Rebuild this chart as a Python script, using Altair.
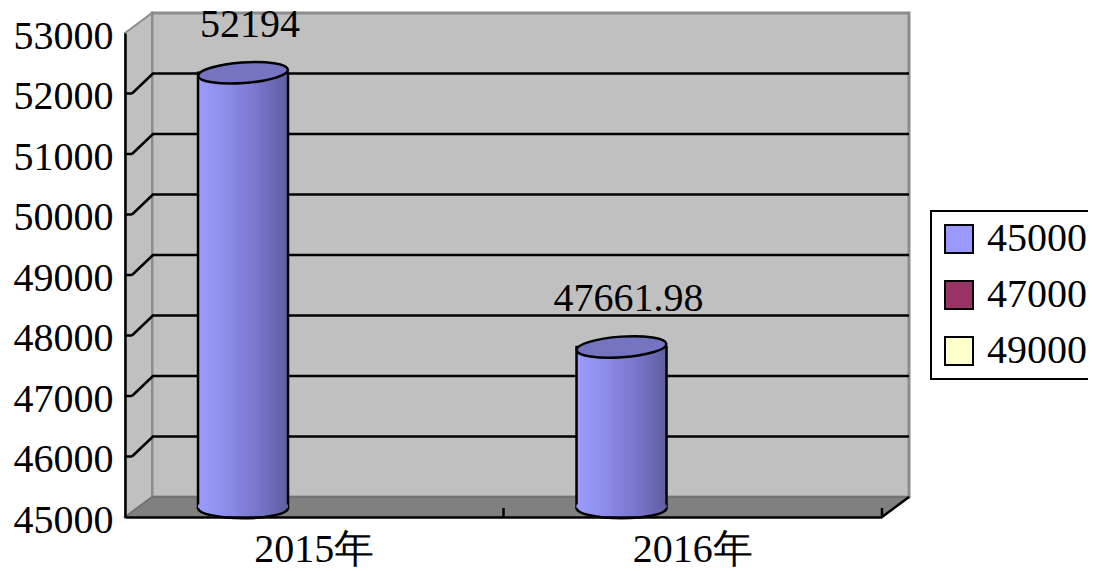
import altair as alt
import pandas as pd

# ---- data ----
categories = ["2015年", "2016年"]
series = ["45000", "47000", "49000"]
series_colors = ["#9999FF", "#993366", "#FFFFCC"]
values_45000 = [52194, 47661.98]
y_ticks = [45000, 46000, 47000, 48000, 49000, 50000, 51000, 52000, 53000]
grid_values = [46000, 47000, 48000, 49000, 50000, 51000, 52000]
y_min, y_max = 45000, 53000

# ---- layout / style ----
W, H = 757, 484
DX, DY = 27, -20          # depth of the 3D box
MID_DY = -9               # cylinders sit half way in depth
FONT = "Liberation Serif"
FS = 40

bars_df = pd.DataFrame({"category": categories,
                        "series": [series[0]] * len(categories),
                        "value": values_45000})
legend_df = pd.DataFrame({"series": series})
grid_df = pd.DataFrame({"v": grid_values})
cat_df = pd.DataFrame({"category": categories})
one = pd.DataFrame({"k": [0]})

yscale = alt.Scale(domain=[y_min, y_max], nice=False, zero=False)
yaxis = alt.Axis(values=y_ticks, format="d", title=None, labelFont=FONT, labelFontSize=FS,
                 labelColor="black", labelPadding=12, labelOffset=3, ticks=False,
                 domainColor="black", domainWidth=2.5, grid=False, zindex=1)
xscale = alt.Scale(domain=categories, paddingInner=0, paddingOuter=0)
xaxis = alt.Axis(title=None, labelFont=FONT, labelFontSize=FS, labelColor="black",
                 labelPadding=12, ticks=False, domainColor="black", domainWidth=2.5,
                 labelAngle=0, grid=False, zindex=1)
xoff = alt.XOffset("series:N", scale=alt.Scale(domain=series, paddingInner=0,
                                               paddingOuter=0.6028, align=0.673))

body_grad = {"gradient": "linear", "x1": 0, "x2": 1, "y1": 0, "y2": 0,
             "stops": [{"offset": 0, "color": "#9C9CFF"},
                       {"offset": 0.35, "color": "#8A8AE8"},
                       {"offset": 0.7, "color": "#7474C6"},
                       {"offset": 1, "color": "#5E5EA0"}]}

K = 0.5523
RY = 0.23
ellipse_path = (f"M-1,0 C-1,{-RY*K:.4f} {-K},{-RY} 0,{-RY} C{K},{-RY} 1,{-RY*K:.4f} 1,0 "
                f"C1,{RY*K:.4f} {K},{RY} 0,{RY} C{-K},{RY} -1,{RY*K:.4f} -1,0 Z")
lower_arc = f"M-1,0 C-1,{RY*K:.4f} {-K},{RY} 0,{RY} C{K},{RY} 1,{RY*K:.4f} 1,0"
cap_cover = (f"M-1,-0.08 L-1,0 C-1,{RY*K:.4f} {-K},{RY} 0,{RY} C{K},{RY} 1,{RY*K:.4f} 1,0 "
             f"L1,-0.08 Z")
CYL = 90 * 90

# legend carrier (hidden behind the back wall)
legend_layer = alt.Chart(legend_df).mark_square(size=1, opacity=1).encode(
    x=alt.value(W / 2), y=alt.value(H / 2),
    color=alt.Color("series:N", scale=alt.Scale(domain=series, range=series_colors),
                    legend=alt.Legend(title=None, orient="none", legendX=806, legendY=178,
                                      padding=8, strokeColor="black", fillColor="white",
                                      symbolType="square", symbolSize=784,
                                      symbolStrokeColor="black", symbolStrokeWidth=2,
                                      symbolOpacity=1, labelFont=FONT, labelFontSize=FS,
                                      labelColor="black", labelOffset=8, rowPadding=16)))

back_wall = alt.Chart(one).mark_rect(fill="#C0C0C0", stroke="#8C8C8C", strokeWidth=3,
                                     yOffset=DY, y2Offset=DY).encode(
    x=alt.value(DX), x2=alt.value(W + DX),
    y=alt.YDatum(y_max, scale=yscale, axis=yaxis), y2=alt.Y2Datum(y_min))

left_wall = alt.Chart(one).mark_point(
    shape=f"M0,0L{DX},{DY}L{DX},{H + DY}L0,{H}Z", size=4, filled=True, opacity=1,
    fill="#C0C0C0", stroke="#8C8C8C", strokeWidth=2).encode(x=alt.value(0), y=alt.value(0))

floor = alt.Chart(one).mark_point(
    shape=f"M0,{H}L{W},{H}L{W + DX},{H + DY}L{DX},{H + DY}Z", size=4, filled=True, opacity=1,
    fill="#808080", stroke="#6E6E6E", strokeWidth=1.5).encode(x=alt.value(0), y=alt.value(0))

floor_edge = alt.Chart(one).mark_rule(color="black", strokeWidth=2.5, y2Offset=DY).encode(
    x=alt.value(W), x2=alt.value(W + DX),
    y=alt.YDatum(y_min, scale=yscale, axis=yaxis), y2=alt.Y2Datum(y_min))

back_grid = alt.Chart(grid_df).mark_rule(color="black", strokeWidth=2.5, yOffset=DY).encode(
    x=alt.value(DX), x2=alt.value(W + DX),
    y=alt.Y("v:Q", scale=yscale, axis=yaxis))

side_tick = alt.Chart(grid_df).mark_rule(color="black", strokeWidth=2.5).encode(
    x=alt.value(0), x2=alt.value(7), y=alt.Y("v:Q", scale=yscale, axis=yaxis))

side_grid = alt.Chart(grid_df).mark_rule(color="black", strokeWidth=2.5, y2Offset=DY).encode(
    x=alt.value(7), x2=alt.value(DX + 1),
    y=alt.Y("v:Q", scale=yscale, axis=yaxis), y2=alt.Y2("v:Q"))

x_ticks = alt.Chart(cat_df).mark_rule(color="black", strokeWidth=2.5).encode(
    x=alt.X("category:N", scale=xscale, axis=xaxis, bandPosition=1),
    y=alt.value(H - 9), y2=alt.value(H))

xenc = alt.X("category:N", scale=xscale, axis=xaxis)

body = alt.Chart(bars_df).mark_bar(fill=body_grad, stroke="black", strokeWidth=2.5,
                                   yOffset=MID_DY, y2Offset=MID_DY).encode(
    x=xenc, xOffset=xoff,
    y=alt.Y("value:Q", scale=yscale, axis=yaxis), y2=alt.Y2Datum(y_min))

cap_fill = alt.Chart(bars_df).mark_point(shape=cap_cover, size=CYL, filled=True, opacity=1,
                                         fill=body_grad, strokeWidth=0, yOffset=MID_DY).encode(
    x=xenc, xOffset=xoff, y=alt.YDatum(y_min, scale=yscale, axis=yaxis))

cap_arc = alt.Chart(bars_df).mark_point(shape=lower_arc, size=CYL, filled=False, opacity=1,
                                        stroke="black", strokeWidth=2.5, yOffset=MID_DY).encode(
    x=xenc, xOffset=xoff, y=alt.YDatum(y_min, scale=yscale, axis=yaxis))

top = alt.Chart(bars_df).mark_point(shape=ellipse_path, size=CYL, filled=True, opacity=1,
                                    fill="#7474C0", stroke="black", strokeWidth=2.5,
                                    angle=356, yOffset=MID_DY).encode(
    x=xenc, xOffset=xoff, y=alt.Y("value:Q", scale=yscale, axis=yaxis))

labels = alt.Chart(bars_df).transform_calculate(label="toString(datum.value)").mark_text(
    font=FONT, fontSize=FS, color="black", baseline="alphabetic", align="center",
    dx=7, dy=-36, yOffset=MID_DY).encode(
    x=xenc, xOffset=xoff, y=alt.Y("value:Q", scale=yscale, axis=yaxis), text="label:N")

chart = alt.layer(
    legend_layer, back_wall, left_wall, floor, back_grid, side_tick, side_grid, floor_edge,
    x_ticks, body, cap_fill, cap_arc, top, labels
).properties(
    width=W, height=H,
    autosize=alt.AutoSizeParams(type="none"),
    padding={"left": 117, "top": 25, "right": 206, "bottom": 54},
    background="white",
).configure_view(stroke=None).configure_legend(strokeWidth=2)

chart.save("out.html", embed_options={"renderer": "svg", "actions": False})
